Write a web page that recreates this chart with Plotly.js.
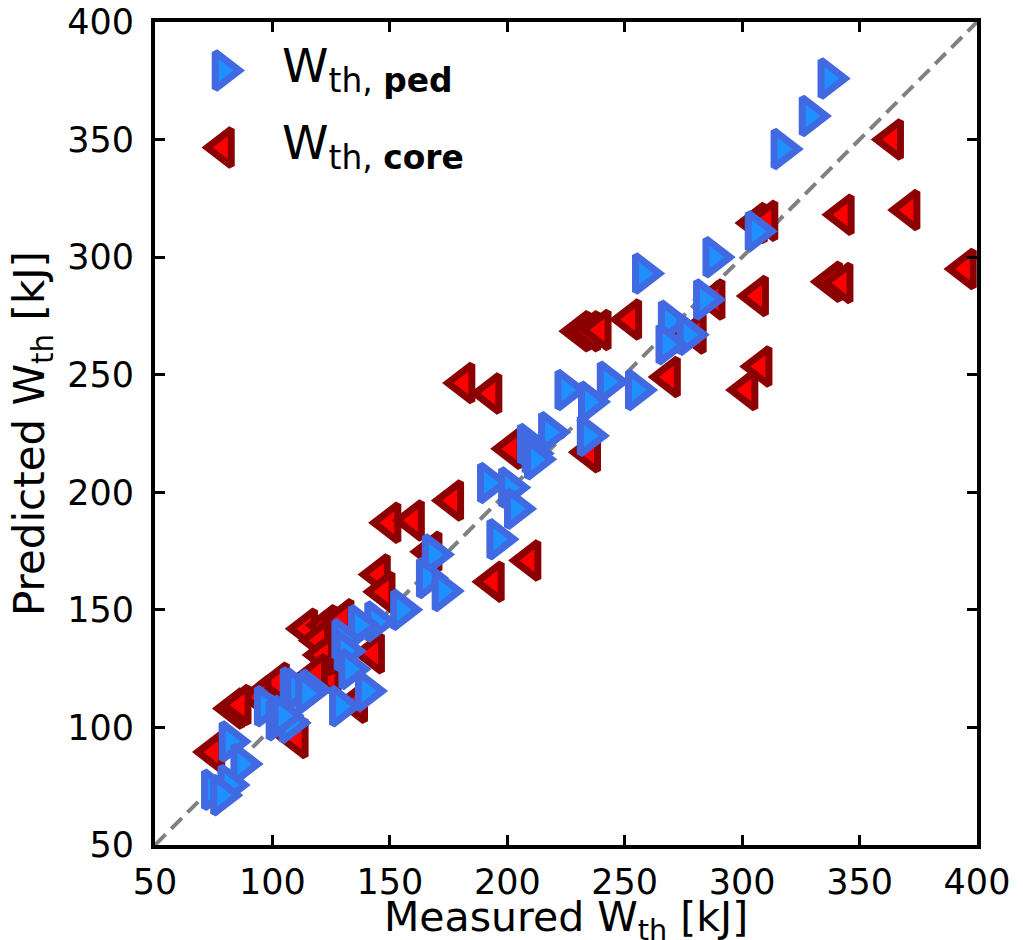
<!DOCTYPE html>
<html>
<head>
<meta charset="utf-8">
<script src="https://cdn.plot.ly/plotly-3.0.1.min.js"></script>
<style>html,body{margin:0;padding:0;background:#fff;}#chart{width:1023px;height:940px;}</style>
</head>
<body>
<div id="chart"></div>
<script>
// ---- data (kJ) ----
const axisRange = [50, 400];
const tickValues = [50, 100, 150, 200, 250, 300, 350, 400];

// W_th,ped : measured vs predicted
const pedX = [337, 329, 317, 306, 288, 258, 284, 269, 277, 268,
              225, 235, 243, 255, 234.5, 218, 209, 211, 212, 192,
              201, 203.5, 196, 168.5, 166, 172.7, 155, 144, 137, 130,
              131, 133, 140, 108, 116.5, 110, 129, 97, 102, 107.5,
              104.5, 82, 87, 74.5, 81.5, 78.4, 114.6];
const pedY = [376, 360, 346, 311, 300, 293, 282, 273, 267, 263,
              243.5, 238.5, 247, 243.5, 224, 225.5, 220.5, 216.5, 214, 204,
              202, 193, 180, 173.5, 163.5, 158, 150, 145, 143.5, 137.5,
              132.5, 124.8, 115.5, 117, 116, 116.5, 109, 109, 103, 102,
              105, 94, 84.5, 73.5, 75.5, 71.2, 114.5];

// W_th,core : measured vs predicted
const coreX = [364, 343, 371, 395, 306, 310.5, 338, 342.5, 306.5, 231,
               235, 239.5, 252.5, 288, 280, 269, 308, 302, 235, 181.5,
               193, 176.7, 150, 160, 209.6, 194, 167.5, 145.5, 147.5, 114.5,
               123, 130, 120, 143, 124.5, 102.5, 121.7, 83.5, 75, 110.5,
               135.8, 94.7, 86.2, 118.8, 202];
const coreY = [350, 318, 320, 295, 314.5, 315.5, 289.5, 289, 283.5, 268.5,
               268.5, 269, 273.5, 282, 267.5, 249, 253.5, 243.5, 217, 246.5,
               242, 196.5, 187, 188, 171, 162, 174.7, 165, 157.7, 142,
               143.5, 146, 137, 131.5, 121, 119, 130.8, 108, 89.5, 95.5,
               110.5, 113, 109.5, 122.6, 218.5];

const font = "DejaVu Sans, Arial, sans-serif";
const pedMarker = {symbol: 'triangle-right', size: 32, color: '#1E90FF', line: {color: '#4169E1', width: 7}};
const coreMarker = {symbol: 'triangle-left', size: 32, color: '#FF0000', line: {color: '#8B0000', width: 7}};

const traces = [
  {x: axisRange, y: axisRange, mode: 'lines', line: {color: '#808080', width: 4, dash: '15px,8px'},
   showlegend: false, hoverinfo: 'skip'},
  {x: coreX, y: coreY, mode: 'markers', name: 'core', marker: coreMarker, showlegend: false},
  {x: pedX, y: pedY, mode: 'markers', name: 'ped', marker: pedMarker, showlegend: false},
  // custom legend symbols on an overlay axis (0..1)
  {x: [0.083], y: [0.941], xaxis: 'x2', yaxis: 'y2', mode: 'markers', marker: pedMarker,
   showlegend: false, hoverinfo: 'skip', cliponaxis: false},
  {x: [0.083], y: [0.8475], xaxis: 'x2', yaxis: 'y2', mode: 'markers', marker: coreMarker,
   showlegend: false, hoverinfo: 'skip', cliponaxis: false}
];

const axisCommon = {
  range: axisRange, tickvals: tickValues, ticks: 'inside', ticklen: 10, tickwidth: 3,
  tickcolor: '#000', showline: true, linewidth: 4, linecolor: '#000', mirror: 'ticks',
  showgrid: false, zeroline: false, tickfont: {family: font, size: 35, color: '#000'}
};

const layout = {
  width: 1023, height: 940,
  margin: {l: 155, r: 46, t: 22, b: 95},
  paper_bgcolor: '#fff', plot_bgcolor: '#fff',
  showlegend: false,
  xaxis: Object.assign({}, axisCommon, {
    ticklabelstandoff: 3
  }),
  yaxis: Object.assign({}, axisCommon, {
    ticklabelstandoff: 10,
    title: {text: 'Predicted W<sub>th</sub> [kJ]', font: {family: font, size: 42, color: '#000'}, standoff: 10}
  }),
  xaxis2: {overlaying: 'x', anchor: 'y2', range: [0, 1], visible: false, fixedrange: true},
  yaxis2: {overlaying: 'y', anchor: 'x2', range: [0, 1], visible: false, fixedrange: true},
  annotations: [
    {xref: 'paper', yref: 'paper', x: 0.5, y: -0.091, xanchor: 'center', yanchor: 'middle',
     text: 'Measured W<sub>th</sub> [kJ]', showarrow: false, font: {family: font, size: 41, color: '#000'}},
    {xref: 'paper', yref: 'paper', x: 0.152, y: 0.943, xanchor: 'left', yanchor: 'middle',
     text: 'W<sub>th, <b>ped</b></sub>', showarrow: false, font: {family: font, size: 47, color: '#000'}},
    {xref: 'paper', yref: 'paper', x: 0.152, y: 0.8495, xanchor: 'left', yanchor: 'middle',
     text: 'W<sub>th, <b>core</b></sub>', showarrow: false, font: {family: font, size: 47, color: '#000'}}
  ]
};

Plotly.newPlot('chart', traces, layout, {displayModeBar: false, staticPlot: true});
</script>
</body>
</html>
